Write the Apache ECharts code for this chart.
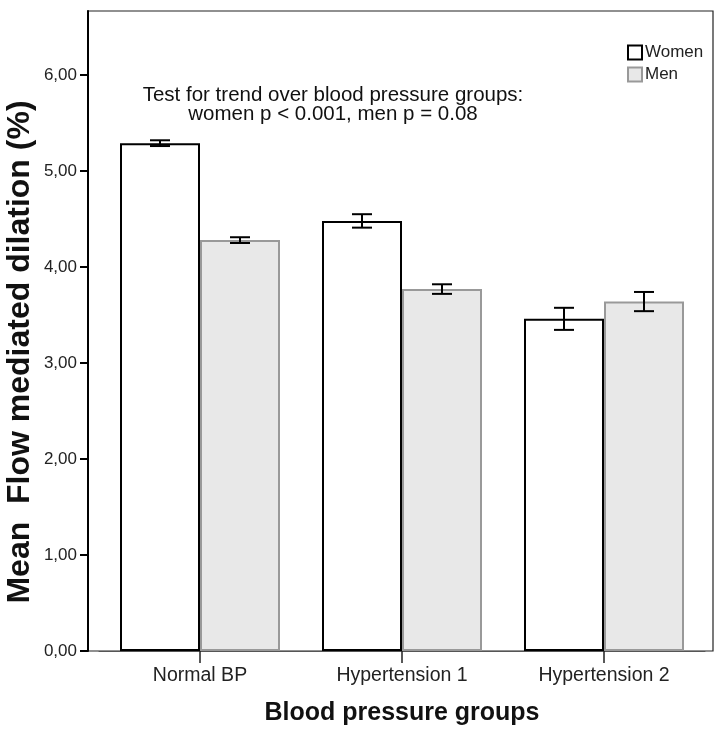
<!DOCTYPE html>
<html>
<head>
<meta charset="utf-8">
<script src="https://cdn.jsdelivr.net/npm/echarts@6/dist/echarts.min.js"></script>
<style>html,body{margin:0;padding:0;background:#fff;}#c{width:720px;height:735px;}</style>
</head>
<body>
<div id="c"></div>
<script>
var categories = ['Normal BP', 'Hypertension 1', 'Hypertension 2'];
var womenMean = [5.29, 4.48, 3.46];
var womenErr = [0.03, 0.07, 0.115];
var menMean = [4.28, 3.77, 3.64];
var menErr = [0.03, 0.05, 0.10];
var yTicks = [0, 1, 2, 3, 4, 5, 6];
var seriesNames = ['Women', 'Men'];
var annotation = 'Test for trend over blood pressure groups:\nwomen p < 0.001, men p = 0.08';
var xTitle = 'Blood pressure groups';
var yTitle = 'Mean  Flow mediated dilation (%)';

var FONT = '"Liberation Sans", Arial, sans-serif';
var chart = echarts.init(document.getElementById('c'), null, {renderer: 'canvas'});

function errData(means, errs) {
  return means.map(function (m, i) { return [i, m - errs[i], m + errs[i]]; });
}
function errRender(side) {
  return function (params, api) {
    var idx = api.value(0);
    var lo = api.coord([idx, api.value(1)]);
    var hi = api.coord([idx, api.value(2)]);
    var x = lo[0] + side * 40;
    var cap = 10;
    var st = {stroke: '#000', lineWidth: 2};
    return {type: 'group', children: [
      {type: 'line', shape: {x1: x, y1: lo[1], x2: x, y2: hi[1]}, style: st},
      {type: 'line', shape: {x1: x - cap, y1: lo[1], x2: x + cap, y2: lo[1]}, style: st},
      {type: 'line', shape: {x1: x - cap, y1: hi[1], x2: x + cap, y2: hi[1]}, style: st}
    ]};
  };
}

var option = {
  backgroundColor: '#fff',
  animation: false,
  textStyle: {fontFamily: FONT},
  grid: [
    {left: 99, right: 15, top: 11, bottom: 84, containLabel: false},
    {left: 88, right: 7, top: 11, bottom: 84, show: true, borderColor: '#222', borderWidth: 1.2, backgroundColor: 'transparent'}
  ],
  legend: {
    data: seriesNames,
    orient: 'vertical',
    left: 627, top: 44,
    itemWidth: 14, itemHeight: 14, itemGap: 5,
    padding: 0,
    icon: 'rect',
    textStyle: {fontSize: 17, color: '#222', fontFamily: FONT, padding: [0, 0, 0, -2]}
  },
  xAxis: [
    {
      type: 'category', gridIndex: 0, data: categories,
      axisLine: {show: true, lineStyle: {color: '#555', width: 1}},
      axisTick: {show: true, alignWithLabel: true, length: 12, lineStyle: {color: '#222', width: 1.5}},
      axisLabel: {fontSize: 19.5, color: '#222', margin: 15, fontFamily: FONT},
      name: xTitle, nameLocation: 'middle', nameGap: 50,
      nameTextStyle: {fontSize: 25, fontWeight: 'bold', color: '#111', fontFamily: FONT}
    },
    {type: 'value', gridIndex: 1, show: false, min: 0, max: 1}
  ],
  yAxis: [
    {
      type: 'value', gridIndex: 0, min: 0, max: 6.6667, interval: 1, offset: 11,
      splitLine: {show: false},
      axisLine: {show: true, lineStyle: {color: '#000', width: 2}},
      axisTick: {show: true, length: 8, lineStyle: {color: '#000', width: 2}, customValues: yTicks},
      axisLabel: {fontSize: 17, color: '#222', margin: 11, fontFamily: FONT, customValues: yTicks,
        formatter: function (v) { return v.toFixed(2).replace('.', ','); }}
    },
    {type: 'value', gridIndex: 1, show: false, min: 0, max: 1}
  ],
  graphic: [
    {type: 'text', x: 333, y: 86, z: 10,
     style: {text: annotation, fontSize: 20.5, lineHeight: 19, fill: '#111', textAlign: 'center', fontFamily: FONT}},
    {type: 'text', x: 20, y: 352, rotation: Math.PI / 2, z: 10,
     style: {text: yTitle, fontSize: 32, fontWeight: 'bold', fill: '#111', textAlign: 'center', textVerticalAlign: 'middle', fontFamily: FONT}}
  ],
  series: [
    {name: 'Women', type: 'bar', xAxisIndex: 0, yAxisIndex: 0, data: womenMean, barWidth: 80, barGap: '0%',
     itemStyle: {color: '#ffffff', borderColor: '#000', borderWidth: 2}},
    {name: 'Men', type: 'bar', xAxisIndex: 0, yAxisIndex: 0, data: menMean, barWidth: 80, barGap: '0%',
     itemStyle: {color: '#e8e8e8', borderColor: '#999', borderWidth: 2}},
    {name: 'WomenErr', type: 'custom', xAxisIndex: 0, yAxisIndex: 0, data: errData(womenMean, womenErr),
     renderItem: errRender(-1), z: 5, encode: {x: 0, y: [1, 2]}},
    {name: 'MenErr', type: 'custom', xAxisIndex: 0, yAxisIndex: 0, data: errData(menMean, menErr),
     renderItem: errRender(1), z: 5, encode: {x: 0, y: [1, 2]}}
  ]
};
chart.setOption(option);
</script>
</body>
</html>
